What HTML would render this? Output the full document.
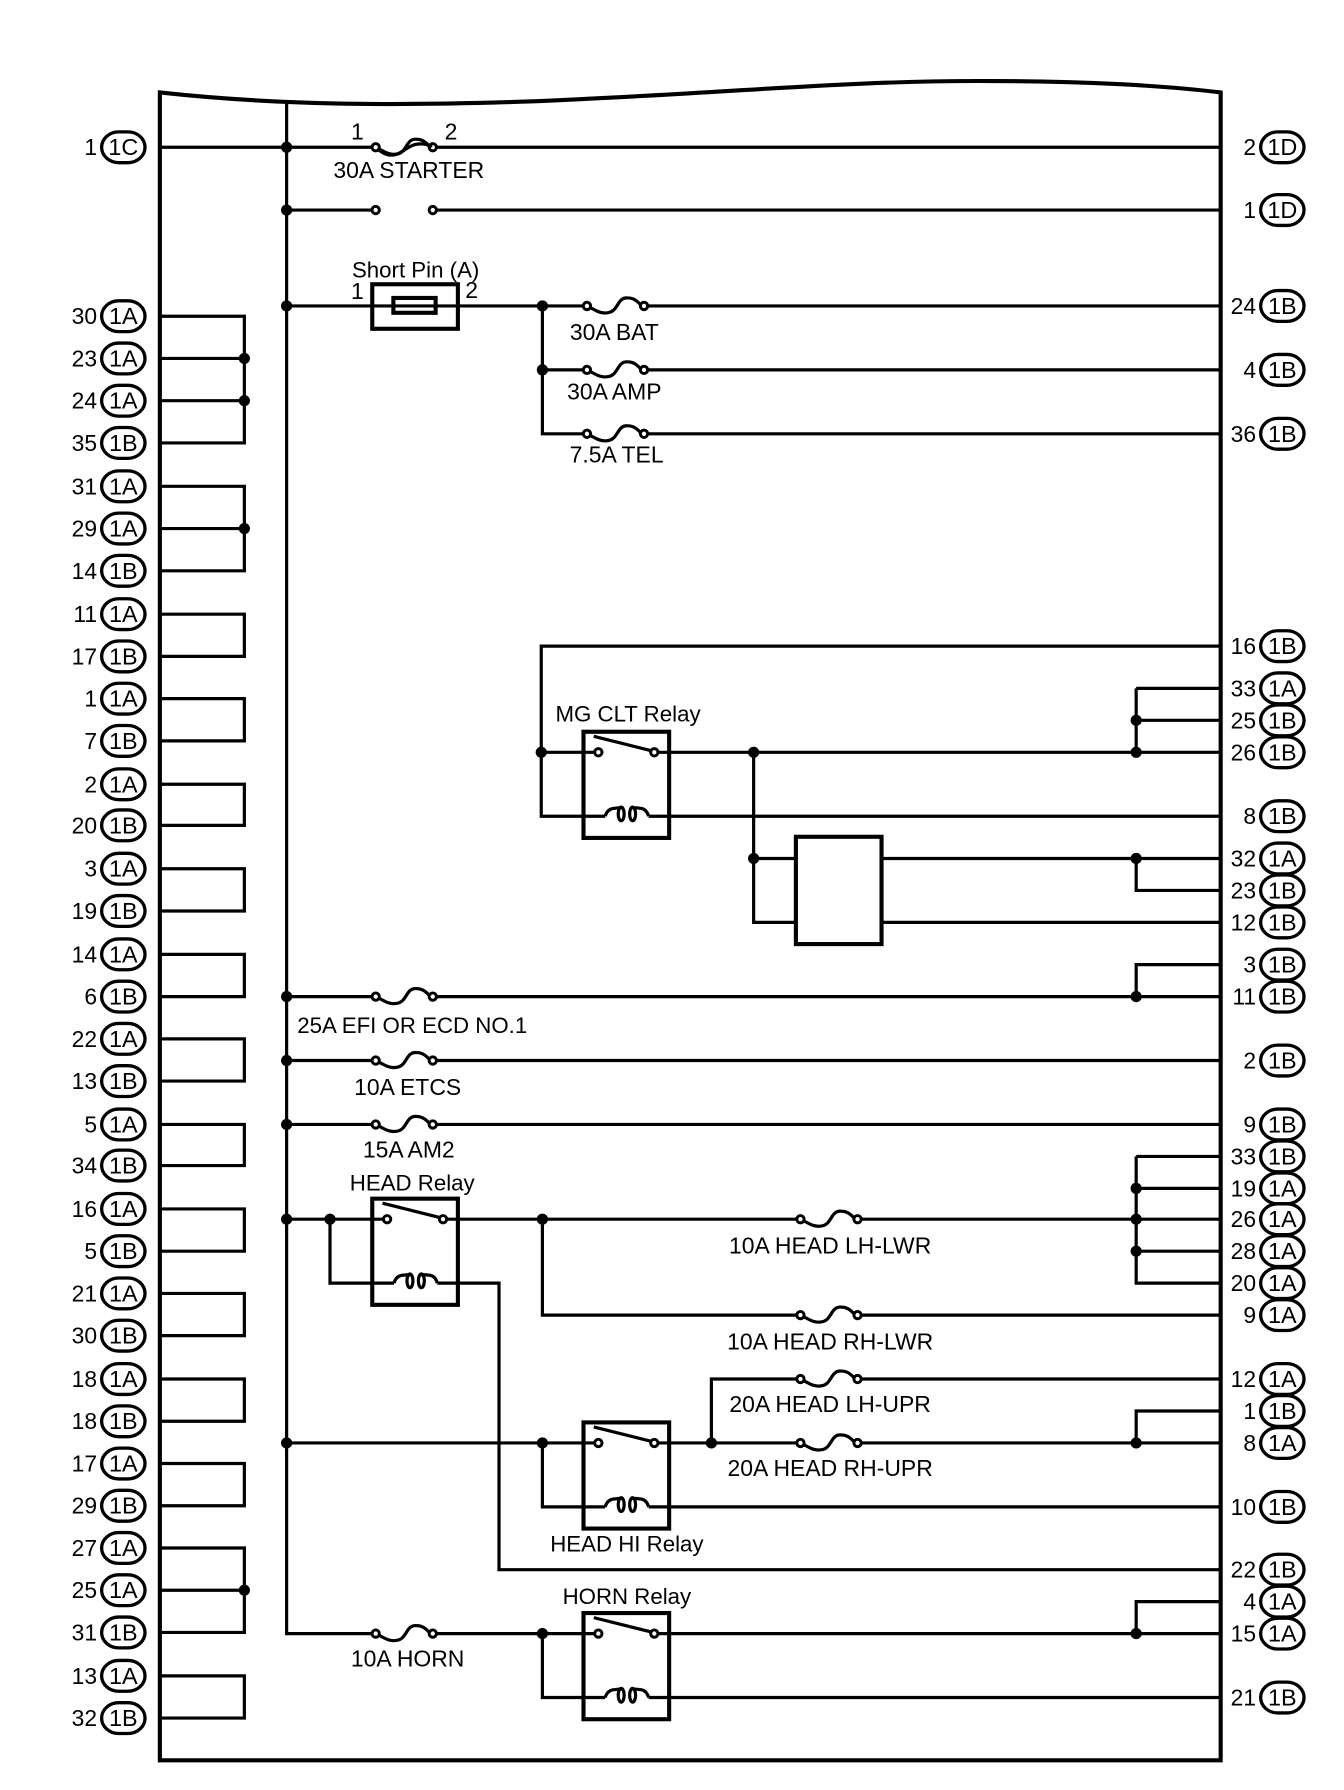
<!DOCTYPE html>
<html><head><meta charset="utf-8"><style>
html,body{margin:0;padding:0;background:#fff}
svg{display:block}
text{font-family:"Liberation Sans",Arial,sans-serif;font-size:19.5px;fill:#000}
.e{text-anchor:end;font-size:20px}
.m{text-anchor:middle}
.n{text-anchor:middle;font-size:20.1px}
.o{text-anchor:middle;font-size:20.5px}
.w{fill:none;stroke:#000;stroke-width:2.8;stroke-linejoin:miter}
.b{fill:none;stroke:#000;stroke-width:3.6}
</style></head><body>
<svg width="1344" height="1790" viewBox="0 0 1177 1568" preserveAspectRatio="none" xmlns="http://www.w3.org/2000/svg">
<defs>
<rect id="o" x="-19" y="-13.500" width="38" height="27" rx="15" ry="13.500" fill="#fff" stroke="#000" stroke-width="2.9"/>
<circle id="d" r="4.900" fill="#000"/>
<circle id="c" r="3.200" fill="#fff" stroke="#000" stroke-width="2.600"/>
<g id="f">
<path class="w" d="M2 1C8 4 12 7 18 6C28 5 26 -8 36 -7C42 -7 45 -3 48 0"/>
<use href="#c" x="0"/><use href="#c" x="50"/>
</g>
<g id="r">
<rect class="b" x="0" y="0" width="75" height="93"/>
<path class="w" d="M9 4L61 17"/>
<use href="#c" x="13" y="18"/><use href="#c" x="62" y="18"/>
<path class="w" d="M19 74Q21 67 28 67Q33 66 33 68M43 68Q44 66 49 67Q55 67 57 74"/>
<ellipse class="w" cx="33" cy="72" rx="2.600" ry="6"/><ellipse class="w" cx="43" cy="72" rx="2.600" ry="6"/>
</g>
</defs>

<!-- frame -->
<path class="b" d="M140 81C240 92 340 93 460 89C620 83 740 70 870 71C950 71 1020 75 1069 81V1542H140Z"/>

<!-- wires -->
<path class="w" d="
M251 91V1431H329
M140 129H329M379 129H1069
M251 184H329M379 184H1069
M251 268H514M565 268H1069
M475 268V380H514M475 324H514M565 324H1069M565 380H1069
M140 277H214V388H140M140 314H214M140 351H214
M140 426H214V500H140M140 463H214
M140 538H214V575H140
M140 612H214V649H140
M140 687H214V723H140
M140 761H214V798H140
M140 836H214V873H140
M140 910H214V947H140
M140 985H214V1021H140
M140 1059H214V1096H140
M140 1133H214V1170H140
M140 1208H214V1245H140
M140 1282H214V1319H140
M140 1356H214V1430H140M140 1393H214
M140 1468H214V1505H140
M1069 566H474V715H530M568 715H1069
M474 659H524M573 659H1069
M995 603V659M995 603H1069M995 631H1069
M660 659V808H697M660 752H697M772 752H1069M772 808H1069
M995 752V780H1069
M251 873H329M379 873H1069M995 873V845H1069
M251 929H329M379 929H1069
M251 985H329M379 985H1069
M251 1068H339M388 1068H700M751 1068H1069
M289 1068V1124H345M383 1124H437V1375H1069
M475 1068V1152H700M751 1152H1069
M995 1013V1124H1069M995 1013H1069M995 1041H1069M995 1096H1069
M251 1264H524M573 1264H700M751 1264H1069
M475 1264V1320H530M568 1320H1069
M623 1264V1208H700M751 1208H1069
M995 1264V1236H1069
M379 1431H524M573 1431H1069
M475 1431V1487H530M568 1487H1069
M995 1431V1403H1069
"/>

<!-- open contacts -->
<use href="#c" x="329" y="184"/><use href="#c" x="379" y="184"/>

<!-- fuses -->
<use href="#f" x="329" y="129"/>
<path class="w" d="M331 131C338 136 342 137 348 135C356 131 360 126 368 126C373 126 376 127 378 129"/>
<use href="#f" x="514" y="268"/><use href="#f" x="514" y="324"/><use href="#f" x="514" y="380"/>
<use href="#f" x="329" y="873"/><use href="#f" x="329" y="929"/><use href="#f" x="329" y="985"/>
<use href="#f" x="701" y="1068"/><use href="#f" x="701" y="1152"/><use href="#f" x="701" y="1208"/><use href="#f" x="701" y="1264"/>
<use href="#f" x="329" y="1431"/>

<!-- short pin -->
<rect class="b" x="326" y="249" width="75" height="39"/>
<rect class="b" x="344.500" y="261" width="37" height="13"/>

<!-- relays -->
<use href="#r" x="511" y="641"/>
<use href="#r" x="326" y="1050"/>
<use href="#r" x="511" y="1246"/>
<use href="#r" x="511" y="1413"/>
<rect class="b" x="697" y="733" width="75" height="94" fill="#fff"/>

<!-- junctions -->
<use href="#d" x="251" y="129"/><use href="#d" x="251" y="184"/><use href="#d" x="251" y="268"/>
<use href="#d" x="251" y="873"/><use href="#d" x="251" y="929"/><use href="#d" x="251" y="985"/>
<use href="#d" x="251" y="1068"/><use href="#d" x="251" y="1264"/>
<use href="#d" x="214" y="314"/><use href="#d" x="214" y="351"/><use href="#d" x="214" y="463"/><use href="#d" x="214" y="1393"/>
<use href="#d" x="475" y="268"/><use href="#d" x="475" y="324"/>
<use href="#d" x="474" y="659"/><use href="#d" x="660" y="659"/><use href="#d" x="660" y="752"/>
<use href="#d" x="995" y="631"/><use href="#d" x="995" y="659"/><use href="#d" x="995" y="752"/><use href="#d" x="995" y="873"/>
<use href="#d" x="289" y="1068"/><use href="#d" x="475" y="1068"/>
<use href="#d" x="995" y="1041"/><use href="#d" x="995" y="1068"/><use href="#d" x="995" y="1096"/>
<use href="#d" x="475" y="1264"/><use href="#d" x="623" y="1264"/><use href="#d" x="995" y="1264"/>
<use href="#d" x="475" y="1431"/><use href="#d" x="995" y="1431"/>

<!-- labels -->
<text class="n" x="313" y="122">1</text><text class="n" x="395" y="122">2</text>
<text class="n" x="358" y="156">30A STARTER</text>
<text class="m" x="364" y="243">Short Pin (A)</text>
<text class="n" x="313" y="262">1</text><text class="n" x="413" y="261">2</text>
<text class="n" x="538" y="298">30A BAT</text>
<text class="n" x="538" y="350">30A AMP</text>
<text class="n" x="540" y="405">7.5A TEL</text>
<text class="m" x="550" y="632">MG CLT Relay</text>
<text class="m" x="361" y="905">25A EFI OR ECD NO.1</text>
<text class="n" x="357" y="959">10A ETCS</text>
<text class="n" x="358" y="1014">15A AM2</text>
<text class="m" x="361" y="1043">HEAD Relay</text>
<text class="n" x="727" y="1098">10A HEAD LH-LWR</text>
<text class="n" x="727" y="1182">10A HEAD RH-LWR</text>
<text class="n" x="727" y="1237">20A HEAD LH-UPR</text>
<text class="n" x="727" y="1293">20A HEAD RH-UPR</text>
<text class="m" x="549" y="1359">HEAD HI Relay</text>
<text class="m" x="549" y="1405">HORN Relay</text>
<text class="n" x="357" y="1460">10A HORN</text>

<!-- left connectors -->
<g transform="translate(108 0)">
<use href="#o" y="129"/><use href="#o" y="277"/><use href="#o" y="314"/><use href="#o" y="351"/><use href="#o" y="388"/>
<use href="#o" y="426"/><use href="#o" y="463"/><use href="#o" y="500"/><use href="#o" y="538"/><use href="#o" y="575"/>
<use href="#o" y="612"/><use href="#o" y="649"/><use href="#o" y="687"/><use href="#o" y="723"/><use href="#o" y="761"/>
<use href="#o" y="798"/><use href="#o" y="836"/><use href="#o" y="873"/><use href="#o" y="910"/><use href="#o" y="947"/>
<use href="#o" y="985"/><use href="#o" y="1021"/><use href="#o" y="1059"/><use href="#o" y="1096"/><use href="#o" y="1133"/>
<use href="#o" y="1170"/><use href="#o" y="1208"/><use href="#o" y="1245"/><use href="#o" y="1282"/><use href="#o" y="1319"/>
<use href="#o" y="1356"/><use href="#o" y="1393"/><use href="#o" y="1430"/><use href="#o" y="1468"/><use href="#o" y="1505"/>
</g>
<text class="e" x="85" y="136">1</text><text class="o" x="108" y="136">1C</text>
<text class="e" x="85" y="284">30</text><text class="o" x="108" y="284">1A</text>
<text class="e" x="85" y="321">23</text><text class="o" x="108" y="321">1A</text>
<text class="e" x="85" y="358">24</text><text class="o" x="108" y="358">1A</text>
<text class="e" x="85" y="395">35</text><text class="o" x="108" y="395">1B</text>
<text class="e" x="85" y="433">31</text><text class="o" x="108" y="433">1A</text>
<text class="e" x="85" y="470">29</text><text class="o" x="108" y="470">1A</text>
<text class="e" x="85" y="507">14</text><text class="o" x="108" y="507">1B</text>
<text class="e" x="85" y="545">11</text><text class="o" x="108" y="545">1A</text>
<text class="e" x="85" y="582">17</text><text class="o" x="108" y="582">1B</text>
<text class="e" x="85" y="619">1</text><text class="o" x="108" y="619">1A</text>
<text class="e" x="85" y="656">7</text><text class="o" x="108" y="656">1B</text>
<text class="e" x="85" y="694">2</text><text class="o" x="108" y="694">1A</text>
<text class="e" x="85" y="730">20</text><text class="o" x="108" y="730">1B</text>
<text class="e" x="85" y="768">3</text><text class="o" x="108" y="768">1A</text>
<text class="e" x="85" y="805">19</text><text class="o" x="108" y="805">1B</text>
<text class="e" x="85" y="843">14</text><text class="o" x="108" y="843">1A</text>
<text class="e" x="85" y="880">6</text><text class="o" x="108" y="880">1B</text>
<text class="e" x="85" y="917">22</text><text class="o" x="108" y="917">1A</text>
<text class="e" x="85" y="954">13</text><text class="o" x="108" y="954">1B</text>
<text class="e" x="85" y="992">5</text><text class="o" x="108" y="992">1A</text>
<text class="e" x="85" y="1028">34</text><text class="o" x="108" y="1028">1B</text>
<text class="e" x="85" y="1066">16</text><text class="o" x="108" y="1066">1A</text>
<text class="e" x="85" y="1103">5</text><text class="o" x="108" y="1103">1B</text>
<text class="e" x="85" y="1140">21</text><text class="o" x="108" y="1140">1A</text>
<text class="e" x="85" y="1177">30</text><text class="o" x="108" y="1177">1B</text>
<text class="e" x="85" y="1215">18</text><text class="o" x="108" y="1215">1A</text>
<text class="e" x="85" y="1252">18</text><text class="o" x="108" y="1252">1B</text>
<text class="e" x="85" y="1289">17</text><text class="o" x="108" y="1289">1A</text>
<text class="e" x="85" y="1326">29</text><text class="o" x="108" y="1326">1B</text>
<text class="e" x="85" y="1363">27</text><text class="o" x="108" y="1363">1A</text>
<text class="e" x="85" y="1400">25</text><text class="o" x="108" y="1400">1A</text>
<text class="e" x="85" y="1437">31</text><text class="o" x="108" y="1437">1B</text>
<text class="e" x="85" y="1475">13</text><text class="o" x="108" y="1475">1A</text>
<text class="e" x="85" y="1512">32</text><text class="o" x="108" y="1512">1B</text>

<!-- right connectors -->
<g transform="translate(1123 0)">
<use href="#o" y="129"/><use href="#o" y="184"/><use href="#o" y="268"/><use href="#o" y="324"/><use href="#o" y="380"/>
<use href="#o" y="566"/><use href="#o" y="603"/><use href="#o" y="631"/><use href="#o" y="659"/><use href="#o" y="715"/>
<use href="#o" y="752"/><use href="#o" y="780"/><use href="#o" y="808"/><use href="#o" y="845"/><use href="#o" y="873"/>
<use href="#o" y="929"/><use href="#o" y="985"/><use href="#o" y="1013"/><use href="#o" y="1041"/><use href="#o" y="1068"/>
<use href="#o" y="1096"/><use href="#o" y="1124"/><use href="#o" y="1152"/><use href="#o" y="1208"/><use href="#o" y="1236"/>
<use href="#o" y="1264"/><use href="#o" y="1320"/><use href="#o" y="1375"/><use href="#o" y="1403"/><use href="#o" y="1431"/>
<use href="#o" y="1487"/>
</g>
<text class="e" x="1100" y="136">2</text><text class="o" x="1123" y="136">1D</text>
<text class="e" x="1100" y="191">1</text><text class="o" x="1123" y="191">1D</text>
<text class="e" x="1100" y="275">24</text><text class="o" x="1123" y="275">1B</text>
<text class="e" x="1100" y="331">4</text><text class="o" x="1123" y="331">1B</text>
<text class="e" x="1100" y="387">36</text><text class="o" x="1123" y="387">1B</text>
<text class="e" x="1100" y="573">16</text><text class="o" x="1123" y="573">1B</text>
<text class="e" x="1100" y="610">33</text><text class="o" x="1123" y="610">1A</text>
<text class="e" x="1100" y="638">25</text><text class="o" x="1123" y="638">1B</text>
<text class="e" x="1100" y="666">26</text><text class="o" x="1123" y="666">1B</text>
<text class="e" x="1100" y="722">8</text><text class="o" x="1123" y="722">1B</text>
<text class="e" x="1100" y="759">32</text><text class="o" x="1123" y="759">1A</text>
<text class="e" x="1100" y="787">23</text><text class="o" x="1123" y="787">1B</text>
<text class="e" x="1100" y="815">12</text><text class="o" x="1123" y="815">1B</text>
<text class="e" x="1100" y="852">3</text><text class="o" x="1123" y="852">1B</text>
<text class="e" x="1100" y="880">11</text><text class="o" x="1123" y="880">1B</text>
<text class="e" x="1100" y="936">2</text><text class="o" x="1123" y="936">1B</text>
<text class="e" x="1100" y="992">9</text><text class="o" x="1123" y="992">1B</text>
<text class="e" x="1100" y="1020">33</text><text class="o" x="1123" y="1020">1B</text>
<text class="e" x="1100" y="1048">19</text><text class="o" x="1123" y="1048">1A</text>
<text class="e" x="1100" y="1075">26</text><text class="o" x="1123" y="1075">1A</text>
<text class="e" x="1100" y="1103">28</text><text class="o" x="1123" y="1103">1A</text>
<text class="e" x="1100" y="1131">20</text><text class="o" x="1123" y="1131">1A</text>
<text class="e" x="1100" y="1159">9</text><text class="o" x="1123" y="1159">1A</text>
<text class="e" x="1100" y="1215">12</text><text class="o" x="1123" y="1215">1A</text>
<text class="e" x="1100" y="1243">1</text><text class="o" x="1123" y="1243">1B</text>
<text class="e" x="1100" y="1271">8</text><text class="o" x="1123" y="1271">1A</text>
<text class="e" x="1100" y="1327">10</text><text class="o" x="1123" y="1327">1B</text>
<text class="e" x="1100" y="1382">22</text><text class="o" x="1123" y="1382">1B</text>
<text class="e" x="1100" y="1410">4</text><text class="o" x="1123" y="1410">1A</text>
<text class="e" x="1100" y="1438">15</text><text class="o" x="1123" y="1438">1A</text>
<text class="e" x="1100" y="1494">21</text><text class="o" x="1123" y="1494">1B</text>
</svg>
</body></html>
